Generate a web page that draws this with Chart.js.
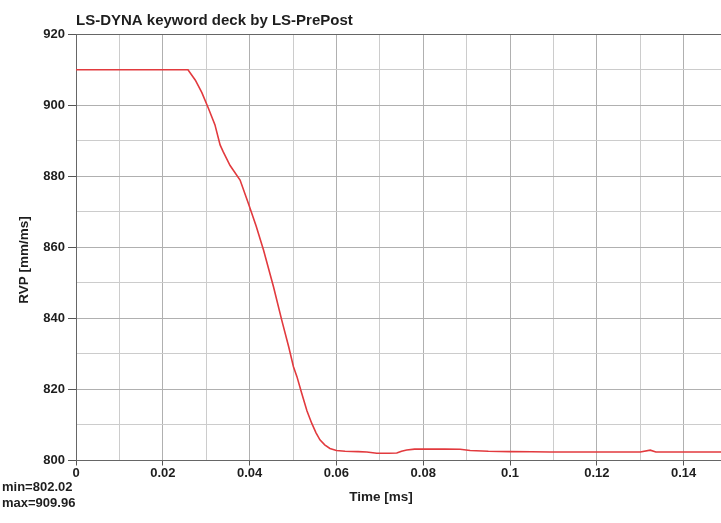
<!DOCTYPE html>
<html>
<head>
<meta charset="utf-8">
<script src="https://cdn.jsdelivr.net/npm/chart.js@4.4.1/dist/chart.umd.min.js"></script>
<style>
  html, body { margin: 0; padding: 0; background: #fff; }
</style>
</head>
<body>
<canvas id="rvpGraph" width="721" height="523"></canvas>
<script>
// RVP curve
var timeMs = [0, 0.0258, 0.0275, 0.029, 0.0305, 0.032, 0.0332, 0.0339, 0.0355, 0.0378,
              0.0397, 0.0415, 0.0432, 0.0455, 0.0474, 0.049, 0.0501, 0.0509, 0.052, 0.0532,
              0.0543, 0.0553, 0.0562, 0.0573, 0.0585, 0.06, 0.062, 0.065, 0.067, 0.0693,
              0.072, 0.0739, 0.075, 0.0762, 0.078, 0.0808, 0.085, 0.0885, 0.0908, 0.095,
              0.1, 0.105, 0.1092, 0.1161, 0.125, 0.13, 0.1323, 0.1336, 0.14, 0.1486];
var rvp = [909.96, 909.96, 907.0, 903.5, 899.1, 894.5, 888.8, 886.9, 883.0, 878.9,
           872.4, 866.0, 859.2, 848.9, 839.5, 832.0, 826.4, 823.6, 818.9, 814.0,
           810.5, 807.8, 805.8, 804.4, 803.4, 802.8, 802.6, 802.5, 802.4, 802.02,
           802.02, 802.1, 802.6, 802.95, 803.2, 803.2, 803.2, 803.15, 802.8, 802.6,
           802.5, 802.45, 802.4, 802.4, 802.4, 802.4, 802.9, 802.4, 802.4, 802.4];

var xTicks = [0, 0.01, 0.02, 0.03, 0.04, 0.05, 0.06, 0.07, 0.08, 0.09, 0.1, 0.11, 0.12, 0.13, 0.14];
var yTicks = [800, 810, 820, 830, 840, 850, 860, 870, 880, 890, 900, 910, 920];

var titleText = "LS-DYNA keyword deck by LS-PrePost";
var xTitle = "Time [ms]";
var yTitle = "RVP [mm/ms]";
var minText = "min=802.02";
var maxText = "max=909.96";

var font = '"Liberation Sans", Arial, sans-serif';

function isMajorX(v) { return Math.round(v * 100) % 2 === 0; }
function isMajorY(v) { return Math.round(v) % 20 === 0; }

var points = [];
for (var i = 0; i < timeMs.length; i++) {
    points.push({ x: timeMs[i], y: rvp[i] });
}

// texts that sit outside the normal chart.js boxes
var deckText = {
    id: 'deckText',
    afterDraw: function(chart) {
        var ctx = chart.ctx;
        ctx.save();
        ctx.fillStyle = '#1e1e1e';
        ctx.textBaseline = 'middle';
        ctx.font = 'bold 15px ' + font;
        ctx.textAlign = 'left';
        ctx.fillText(titleText, 76, 21);

        ctx.font = 'bold 13px ' + font;
        ctx.fillText(minText, 2, 487);
        ctx.fillText(maxText, 2, 503);

        ctx.textAlign = 'center';
        ctx.font = 'bold 13.5px ' + font;
        ctx.fillText(xTitle, 381, 497);

        ctx.translate(24, 260);
        ctx.rotate(-Math.PI / 2);
        ctx.fillText(yTitle, 0, 0);
        ctx.restore();
    }
};

var rvpConfig = {
    type: 'line',
    data: {
        datasets: [{
            data: points,
            borderColor: '#e23a3e',
            borderWidth: 1.6,
            pointRadius: 0,
            tension: 0,
            fill: false
        }]
    },
    options: {
        responsive: false,
        animation: false,
        layout: { padding: { top: 34, right: 0, bottom: 0, left: 0 } },
        plugins: {
            legend: { display: false },
            tooltip: { enabled: false }
        },
        scales: {
            x: {
                type: 'linear',
                min: 0,
                max: 0.1486,
                afterBuildTicks: function(scale) {
                    scale.ticks = xTicks.map(function(v) { return { value: v }; });
                },
                afterFit: function(scale) { scale.height = 62.5; },
                border: { color: '#666', width: 1 },
                grid: {
                    color: function(c) { return c.tick && isMajorX(c.tick.value) ? '#b0b0b0' : '#cccccc'; },
                    tickColor: function(c) { return c.tick && isMajorX(c.tick.value) ? '#555' : 'rgba(0,0,0,0)'; },
                    tickLength: 5
                },
                ticks: {
                    autoSkip: false,
                    maxRotation: 0,
                    padding: 0,
                    color: '#1e1e1e',
                    font: { family: font, size: 13, weight: 'bold' },
                    callback: function(v) {
                        return isMajorX(v) ? String(Math.round(v * 100) / 100) : '';
                    }
                }
            },
            y: {
                min: 800,
                max: 920,
                afterBuildTicks: function(scale) {
                    scale.ticks = yTicks.map(function(v) { return { value: v }; });
                },
                afterFit: function(scale) { scale.width = 76; },
                border: { color: '#666', width: 1 },
                grid: {
                    color: function(c) {
                        if (!c.tick) return '#cccccc';
                        if (c.tick.value === 920) return '#666';
                        return isMajorY(c.tick.value) ? '#b0b0b0' : '#cccccc';
                    },
                    tickColor: function(c) { return c.tick && isMajorY(c.tick.value) ? '#555' : 'rgba(0,0,0,0)'; },
                    tickLength: 8
                },
                ticks: {
                    autoSkip: false,
                    padding: 3,
                    color: '#1e1e1e',
                    font: { family: font, size: 13, weight: 'bold' },
                    callback: function(v) { return isMajorY(v) ? String(v) : ''; }
                }
            }
        }
    },
    plugins: [deckText]
};

var rvpCtx = document.getElementById("rvpGraph");
var rvpChart = new Chart(rvpCtx, rvpConfig);
</script>
</body>
</html>
